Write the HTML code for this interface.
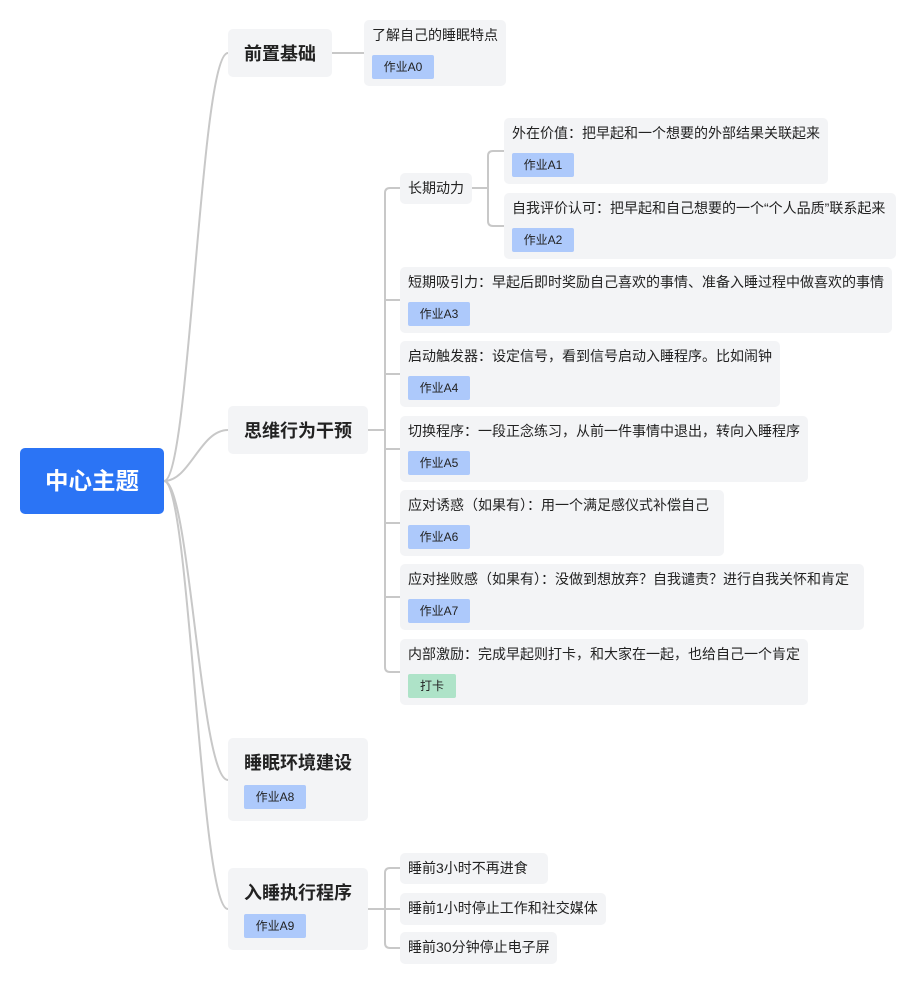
<!DOCTYPE html>
<html><head><meta charset="utf-8"><style>
body{margin:0;width:916px;height:984px;background:#fff;position:relative;overflow:hidden;font-family:"Liberation Sans","Noto Sans CJK SC",sans-serif;color:#222}
.n{position:absolute;background:#f3f4f6;border-radius:5px;box-sizing:border-box}
.t{position:absolute;left:8px;top:7px;font-size:14px;line-height:17px;white-space:nowrap}
.g{position:absolute;left:8px;top:35px;width:62px;height:24px;background:#adc9fb;border-radius:2px;font-size:12px;line-height:24px;text-align:center}
.s{font-size:14px;line-height:31px;padding-left:8px;white-space:nowrap}
.b{font-size:18px;font-weight:bold;white-space:nowrap;position:absolute;left:16px}
</style></head><body>
<svg width="916" height="984" style="position:absolute;left:0;top:0" fill="none" stroke="#c8c8c8" stroke-width="2">
<path d="M164 481 C190 481 200 53 228 53"/>
<path d="M164 481 C190 481 200 430 228 430"/>
<path d="M164 481 C190 481 200 780 228 780"/>
<path d="M164 481 C190 481 200 909 228 909"/>
<path d="M332 53 H364"/>
<path d="M368 430 H385"/>
<path d="M400 188 H390 Q385 188 385 193 V667 Q385 672 390 672 H400"/>
<path d="M385 300 H400 M385 374 H400 M385 449 H400 M385 523 H400 M385 597 H400"/>
<path d="M472 188 H488"/>
<path d="M504 151 H493 Q488 151 488 156 V221 Q488 226 493 226 H504"/>
<path d="M368 909 H400"/>
<path d="M400 868 H390 Q385 868 385 873 V943 Q385 948 390 948 H400"/>
</svg>
<div class="n" style="left:20px;top:448px;width:144px;height:66px;background:#2b74f5;color:#fff;font-size:23.5px;font-weight:bold;line-height:66px;text-align:center">中心主题</div>

<div class="n" style="left:228px;top:29px;width:104px;height:48px"><span class="b" style="top:11px">前置基础</span></div>
<div class="n" style="left:228px;top:406px;width:140px;height:48px"><span class="b" style="top:11px">思维行为干预</span></div>
<div class="n" style="left:228px;top:738px;width:140px;height:83px"><span class="b" style="top:11px">睡眠环境建设</span><div class="g" style="left:16px;top:47px">作业A8</div></div>
<div class="n" style="left:228px;top:868px;width:140px;height:82px"><span class="b" style="top:11px">入睡执行程序</span><div class="g" style="left:16px;top:46px">作业A9</div></div>

<div class="n" style="left:364px;top:20px;width:142px;height:66px"><div class="t">了解自己的睡眠特点</div><div class="g">作业A0</div></div>
<div class="n s" style="left:400px;top:173px;width:72px;height:31px">长期动力</div>
<div class="n" style="left:504px;top:118px;width:324px;height:66px"><div class="t">外在价值：把早起和一个想要的外部结果关联起来</div><div class="g">作业A1</div></div>
<div class="n" style="left:504px;top:193px;width:392px;height:66px"><div class="t">自我评价认可：把早起和自己想要的一个“个人品质”联系起来</div><div class="g">作业A2</div></div>
<div class="n" style="left:400px;top:267px;width:492px;height:66px"><div class="t">短期吸引力：早起后即时奖励自己喜欢的事情、准备入睡过程中做喜欢的事情</div><div class="g">作业A3</div></div>
<div class="n" style="left:400px;top:341px;width:380px;height:66px"><div class="t">启动触发器：设定信号，看到信号启动入睡程序。比如闹钟</div><div class="g">作业A4</div></div>
<div class="n" style="left:400px;top:416px;width:408px;height:66px"><div class="t">切换程序：一段正念练习，从前一件事情中退出，转向入睡程序</div><div class="g">作业A5</div></div>
<div class="n" style="left:400px;top:490px;width:324px;height:66px"><div class="t">应对诱惑（如果有）：用一个满足感仪式补偿自己</div><div class="g">作业A6</div></div>
<div class="n" style="left:400px;top:564px;width:464px;height:66px"><div class="t">应对挫败感（如果有）：没做到想放弃？自我谴责？进行自我关怀和肯定</div><div class="g">作业A7</div></div>
<div class="n" style="left:400px;top:639px;width:408px;height:66px"><div class="t">内部激励：完成早起则打卡，和大家在一起，也给自己一个肯定</div><div class="g" style="width:48px;background:#aee3c8">打卡</div></div>

<div class="n s" style="left:400px;top:853px;width:148px;height:31px">睡前3小时不再进食</div>
<div class="n s" style="left:400px;top:893px;width:206px;height:32px">睡前1小时停止工作和社交媒体</div>
<div class="n s" style="left:400px;top:932px;width:157px;height:32px">睡前30分钟停止电子屏</div>
</body></html>
